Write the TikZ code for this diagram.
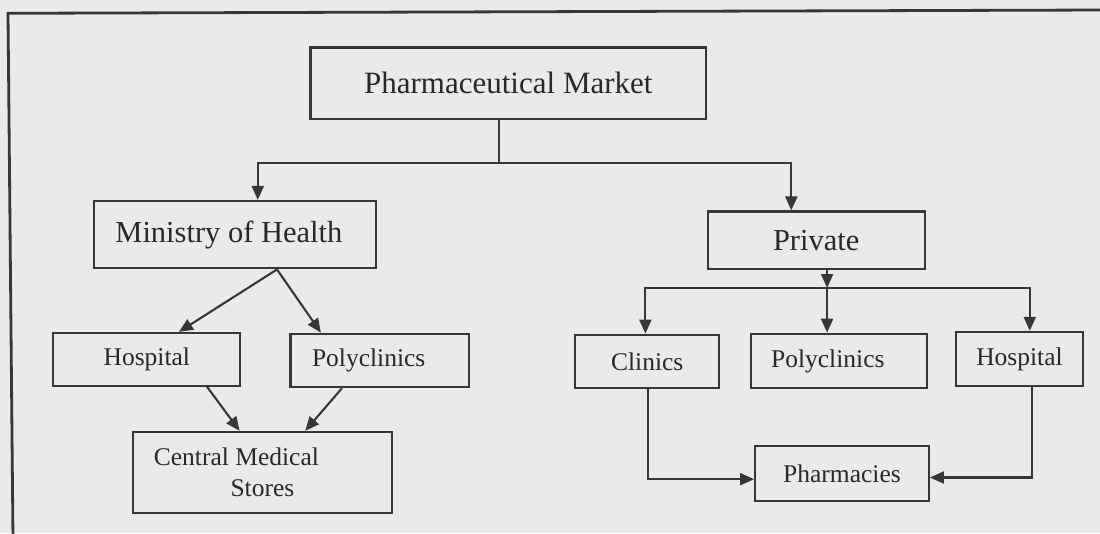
\documentclass[tikz,border=0pt]{standalone}
\usepackage{fontspec}
\setmainfont{Liberation Serif}
\usetikzlibrary{arrows.meta}
\definecolor{bg}{RGB}{234,234,234}
\definecolor{ink}{RGB}{55,55,55}
\definecolor{txt}{RGB}{40,40,40}
\tikzset{
  box/.style={draw=ink, line width=2.2pt, inner sep=0pt, text=txt, align=center},
  bigbox/.style={box, font=\fontsize{30.5}{34}\selectfont},
  smallbox/.style={box, font=\fontsize{25.5}{31}\selectfont},
  arr/.style={draw=ink, line width=2.1pt, -{Triangle[length=14pt,width=12pt]}},
  ln/.style={draw=ink, line width=2.1pt},
}
\begin{document}
\begin{tikzpicture}[x=1pt,y=-1pt]
\fill[bg] (0,0) rectangle (1100,533);
\useasboundingbox (0,0) rectangle (1100,533);
% frame
\draw[ink, line width=2.8pt] (13,540) -- (8,13.3) -- (1105,10);

% nodes
\node[box, font=\fontsize{31}{36}\selectfont, minimum width=395.7pt, minimum height=71.2pt] (pm) at (508.3,83) {Pharmaceutical Market};
\node[bigbox, minimum width=282.3pt, minimum height=67.3pt] (moh) at (234.9,234.7) {Ministry of Health\hspace*{12pt}};
\node[bigbox, minimum width=216.8pt, minimum height=57.2pt] (priv) at (816.2,240.1) {Private};
\node[smallbox, minimum width=187pt, minimum height=52.6pt] (hosp1) at (146.8,359.3) {Hospital};
\node[smallbox, minimum width=178.6pt, minimum height=53.3pt] (poly1) at (379.7,360.4) {Polyclinics\hspace*{22pt}};
\node[smallbox, minimum width=259.5pt, minimum height=81.3pt] (cms) at (262.4,472.6) {Central Medical\hspace*{52pt}\\Stores};
\node[smallbox, minimum width=143.8pt, minimum height=53.3pt] (clin) at (647.2,361.4) {Clinics};
\node[smallbox, minimum width=176.4pt, minimum height=54.3pt] (poly2) at (838.8,360.9) {Polyclinics\hspace*{22pt}};
\node[smallbox, minimum width=127.3pt, minimum height=54.4pt] (hosp2) at (1019.5,359.1) {Hospital};
\node[smallbox, minimum width=173.6pt, minimum height=55.4pt] (pharm) at (842,473.6) {Pharmacies};

% junctions
\coordinate (j1) at (498.8,163);
\coordinate (j2) at (827.1,288);

% connectors
\draw[ln] (pm.south -| j1) -- (j1);
\draw[arr] (j1) -| (moh.north -| 257.8,0);
\draw[arr] (j1) -| (priv.north -| 791.3,0);

\draw[arr] (moh.south -| 277,0) -- (hosp1.north -| 178.9,0);
\draw[arr] (moh.south -| 277,0) -- (poly1.north -| 320.9,0);

\draw[arr] (hosp1.south -| 207,0) -- (cms.north -| 239.6,0);
\draw[arr] (poly1.south -| 342,0) -- (cms.north -| 305.2,0);

\draw[arr] (priv.south -| j2) -- (j2);
\draw[arr] (j2) -| (clin.north -| 645.4,0);
\draw[arr] (j2) -- (poly2.north -| j2);
\draw[arr] (j2) -| (hosp2.north -| 1029.8,0);

\draw[arr] (clin.south -| 648.2,0) |- (pharm.west |- 0,479.2);
\draw[arr] (hosp2.south -| 1032.3,0) |- (pharm.east |- 0,477.5);
\end{tikzpicture}
\end{document}
